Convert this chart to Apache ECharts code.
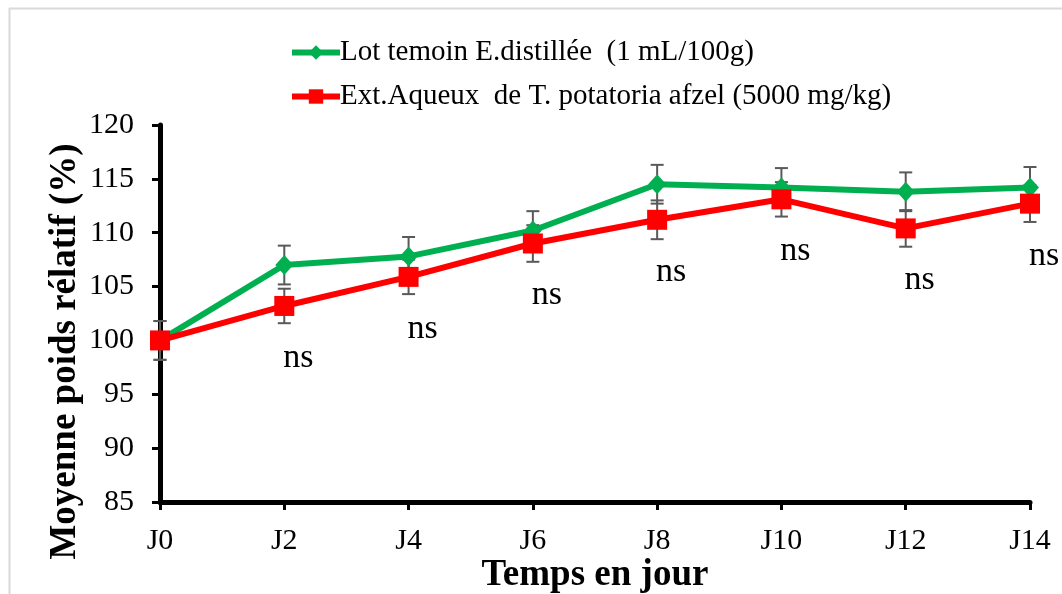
<!DOCTYPE html>
<html lang="fr">
<head>
  <meta charset="UTF-8">
  <title>Moyenne poids relatif</title>
  <script src="https://cdn.jsdelivr.net/npm/echarts@6/dist/echarts.min.js"></script>
  <style>
    html, body { margin: 0; padding: 0; background: #fff; }
  </style>
</head>
<body>
  <div id="main" style="width:1062px;height:594px;"></div>
  <script>
    // jours
    var jours = ["J0", "J2", "J4", "J6", "J8", "J10", "J12", "J14"];
    // lot temoin (eau distillee)
    var temoin = [100, 107.0, 107.8, 110.2, 114.5, 114.2, 113.8, 114.2];
    var temoinSd = [1.8, 1.8, 1.8, 1.8, 1.8, 1.8, 1.8, 1.9];
    // extrait aqueux
    var extrait = [100, 103.2, 105.9, 109.0, 111.2, 113.1, 110.4, 112.7];
    var extraitSd = [1.8, 1.6, 1.6, 1.7, 1.8, 1.6, 1.7, 1.7];
    var signif = ["", "ns", "ns", "ns", "ns", "ns", "ns", "ns"];

    var nomTemoin = "Lot temoin E.distillée  (1 mL/100g)";
    var nomExtrait = "Ext.Aqueux  de T. potatoria afzel (5000 mg/kg)";

    var police = "'Liberation Serif', 'Times New Roman', serif";

    // barres d'erreur
    function barres(moy, sd) {
      var d = [];
      for (var i = 0; i < moy.length; i++) {
        d.push([i, moy[i] - sd[i], moy[i] + sd[i]]);
      }
      return d;
    }
    function dessinBarre(params, api) {
      var bas = api.coord([api.value(0), api.value(1)]);
      var haut = api.coord([api.value(0), api.value(2)]);
      var w = 6.5;
      var st = { stroke: "#595959", lineWidth: 2 };
      return {
        type: "group",
        children: [
          { type: "line", shape: { x1: haut[0], y1: haut[1], x2: bas[0], y2: bas[1] }, style: st },
          { type: "line", shape: { x1: haut[0] - w, y1: haut[1], x2: haut[0] + w, y2: haut[1] }, style: st },
          { type: "line", shape: { x1: bas[0] - w, y1: bas[1], x2: bas[0] + w, y2: bas[1] }, style: st }
        ]
      };
    }

    var chart = echarts.init(document.getElementById("main"));
    var option = {
      backgroundColor: "#fff",
      animation: false,
      textStyle: { fontFamily: police },
      graphic: [
        { type: "line", shape: { x1: 9, y1: 8.5, x2: 1062, y2: 8.5 }, style: { stroke: "#d9d9d9", lineWidth: 2 } },
        { type: "line", shape: { x1: 9.5, y1: 8, x2: 9.5, y2: 594 }, style: { stroke: "#d9d9d9", lineWidth: 2 } }
      ],
      legend: {
        orient: "vertical",
        left: 289,
        top: 38,
        padding: 0,
        itemWidth: 48,
        itemHeight: 18,
        itemGap: 15,
        lineStyle: { width: 6 },
        textStyle: { fontFamily: police, fontSize: 29, color: "#000", padding: [0, 0, 0, -5] },
        data: [nomTemoin, nomExtrait]
      },
      grid: { left: 160, right: 32, top: 125, bottom: 92, containLabel: false, outerBoundsMode: "none" },
      xAxis: {
        type: "category",
        data: jours,
        boundaryGap: false,
        name: "Temps en jour",
        nameLocation: "middle",
        nameGap: 55,
        nameMoveOverlap: false,
        nameTextStyle: { fontFamily: police, fontSize: 37, fontWeight: "bold", color: "#000" },
        axisLine: { lineStyle: { color: "#000", width: 5 } },
        axisTick: { length: 8, lineStyle: { color: "#000", width: 3 } },
        axisLabel: { fontFamily: police, fontSize: 30, color: "#000", margin: 24 },
        splitLine: { show: false }
      },
      yAxis: {
        type: "value",
        min: 85,
        max: 120,
        interval: 5,
        name: "Moyenne poids rélatif (%)",
        nameLocation: "middle",
        nameGap: 76,
        nameMoveOverlap: false,
        nameTextStyle: { fontFamily: police, fontSize: 37, fontWeight: "bold", color: "#000", padding: [0, 76, 0, 0] },
        axisLine: { show: true, lineStyle: { color: "#000", width: 5 } },
        axisTick: { show: true, length: 8, lineStyle: { color: "#000", width: 3 } },
        axisLabel: { fontFamily: police, fontSize: 30, color: "#000", margin: 26 },
        splitLine: { show: false }
      },
      series: [
        {
          type: "custom",
          renderItem: dessinBarre,
          data: barres(temoin, temoinSd),
          encode: { x: 0, y: [1, 2] },
          z: 1,
          silent: true
        },
        {
          type: "custom",
          renderItem: dessinBarre,
          data: barres(extrait, extraitSd),
          encode: { x: 0, y: [1, 2] },
          z: 1,
          silent: true
        },
        {
          name: nomTemoin,
          type: "line",
          data: temoin,
          color: "#00b050",
          symbol: "diamond",
          symbolSize: [18, 20],
          lineStyle: { width: 6, color: "#00b050" },
          itemStyle: { color: "#00b050" },
          z: 3
        },
        {
          name: nomExtrait,
          type: "line",
          data: extrait,
          color: "#ff0000",
          symbol: "rect",
          symbolSize: 20,
          lineStyle: { width: 6, color: "#ff0000" },
          itemStyle: { color: "#ff0000" },
          label: {
            show: true,
            position: "bottom",
            distance: 25,
            offset: [14, 0],
            fontFamily: police,
            fontSize: 34,
            color: "#000",
            formatter: function (p) { return signif[p.dataIndex]; }
          },
          z: 4
        }
      ]
    };
    chart.setOption(option);
  </script>
</body>
</html>
